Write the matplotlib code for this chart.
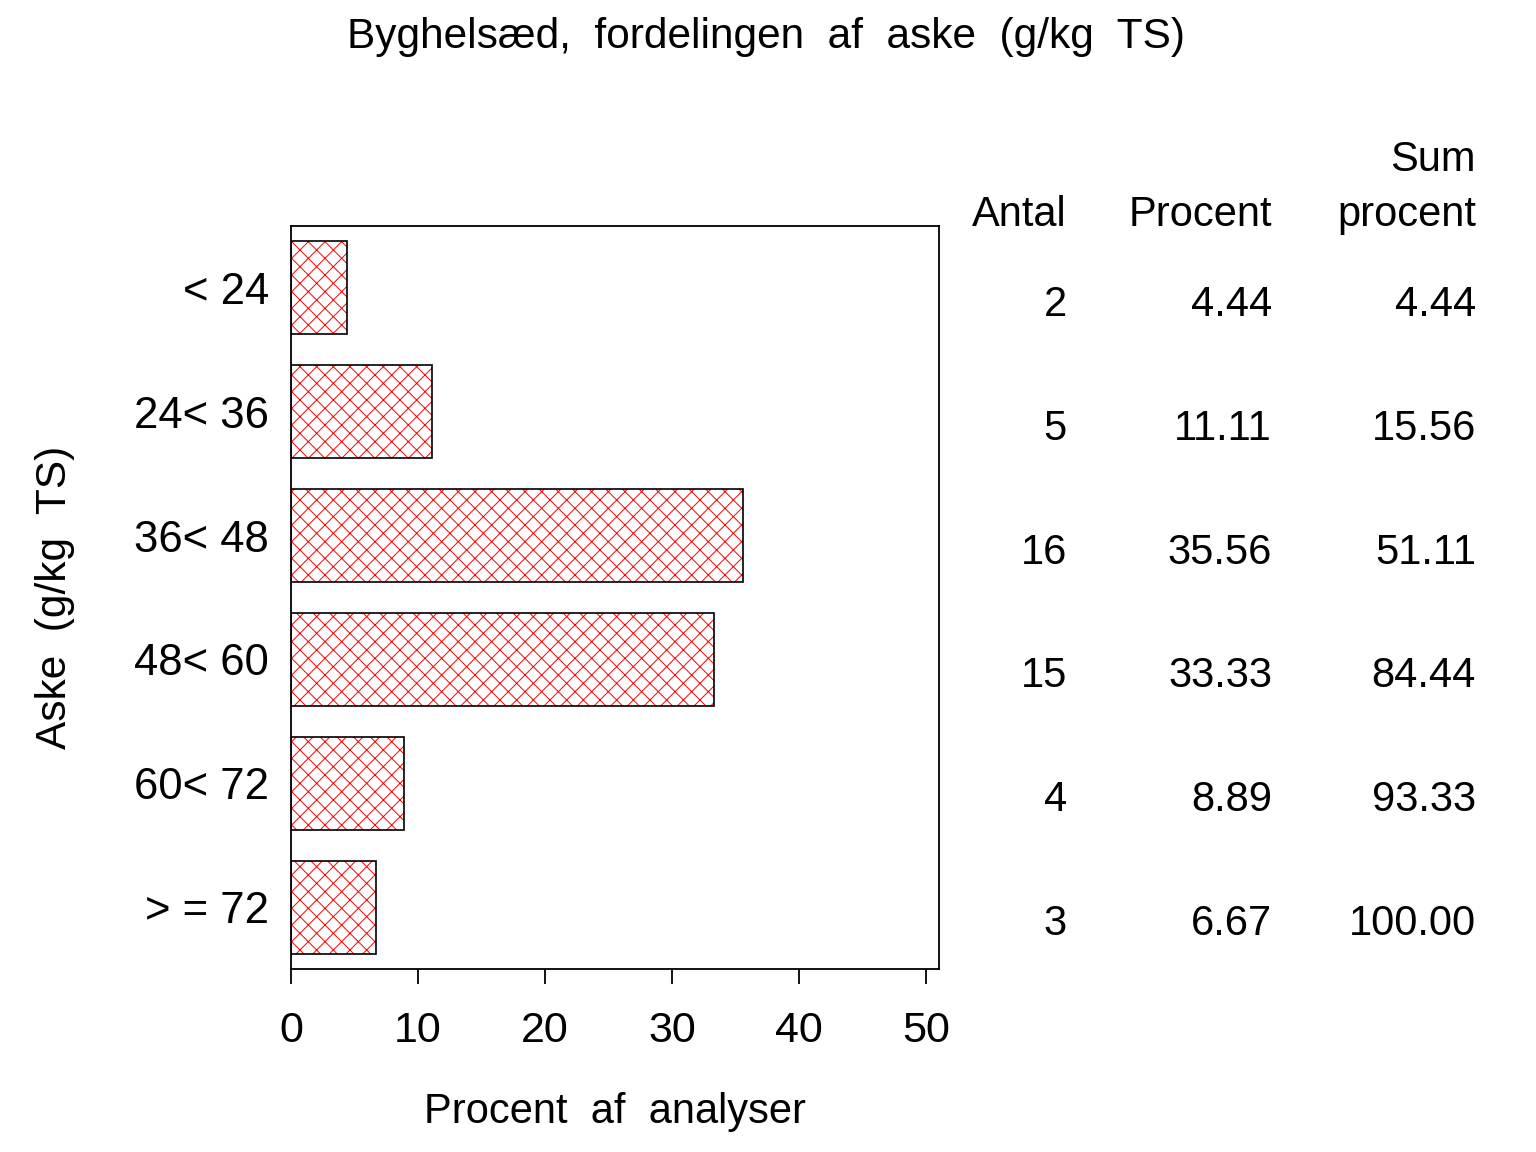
import matplotlib
matplotlib.use('Agg')
import matplotlib.pyplot as plt
import matplotlib.transforms as mtransforms

plt.rcParams['font.family'] = ['Liberation Sans', 'DejaVu Sans']
plt.rcParams['hatch.linewidth'] = 0.7

categories = ['< 24', '24< 36', '36< 48', '48< 60', '60< 72', '> = 72']
antal = [2, 5, 16, 15, 4, 3]
procent = [4.44, 11.11, 35.56, 33.33, 8.89, 6.67]
sum_procent = [4.44, 15.56, 51.11, 84.44, 93.33, 100.00]
xticks = [0, 10, 20, 30, 40, 50]

fig = plt.figure(figsize=(15.36, 11.52), dpi=100)
ax = fig.add_axes([291 / 1536, 1 - 969 / 1152, 648 / 1536, 743 / 1152])

ypos = list(range(len(categories)))
# roed krydsskravering, sort kant ovenpaa
ax.barh(ypos, procent, height=0.75, color='white', edgecolor='red',
        linewidth=0, hatch='xx')
ax.barh(ypos, procent, height=0.75, fill=False, edgecolor='black',
        linewidth=1.2)

ax.set_xlim(0, 51)
ax.set_ylim(len(categories) - 0.5, -0.5)
ax.set_xticks(xticks)
ax.set_xticklabels([str(t) for t in xticks], fontsize=31)
ax.set_yticks(ypos)
ax.set_yticklabels(categories, fontsize=31.5)
ax.tick_params(axis='y', length=0, pad=16)
ax.tick_params(axis='x', length=11, width=1.3, pad=19)
for sp in ax.spines.values():
    sp.set_linewidth(1.3)

ax.set_xlabel('Procent  af  analyser', fontsize=30, labelpad=30)
ax.set_ylabel('Aske  (g/kg  TS)', fontsize=30.5, labelpad=42)
fig.suptitle('Byghelsæd,  fordelingen  af  aske  (g/kg  TS)', fontsize=30.5,
             x=0.499, y=1 - 17 / 1152, va='top')

# tabel til hoejre
trans = mtransforms.blended_transform_factory(fig.transFigure, ax.transData)
cols = [1067 / 1536, 1272 / 1536, 1476 / 1536]
fs = 30
fig.text(cols[0], 1 - 226 / 1152, 'Antal', fontsize=fs, ha='right', va='baseline')
fig.text(cols[1], 1 - 226 / 1152, 'Procent', fontsize=fs, ha='right', va='baseline')
fig.text(cols[2], 1 - 226 / 1152, 'procent', fontsize=fs, ha='right', va='baseline')
fig.text(cols[2], 1 - 171 / 1152, 'Sum', fontsize=fs, ha='right', va='baseline')
for i in ypos:
    ax.text(cols[0], i + 0.226, str(antal[i]), transform=trans, fontsize=fs,
            ha='right', va='baseline', clip_on=False)
    ax.text(cols[1], i + 0.226, f'{procent[i]:.2f}', transform=trans, fontsize=fs,
            ha='right', va='baseline', clip_on=False)
    ax.text(cols[2], i + 0.226, f'{sum_procent[i]:.2f}', transform=trans, fontsize=fs,
            ha='right', va='baseline', clip_on=False)

plt.savefig('out.png', dpi=100)
